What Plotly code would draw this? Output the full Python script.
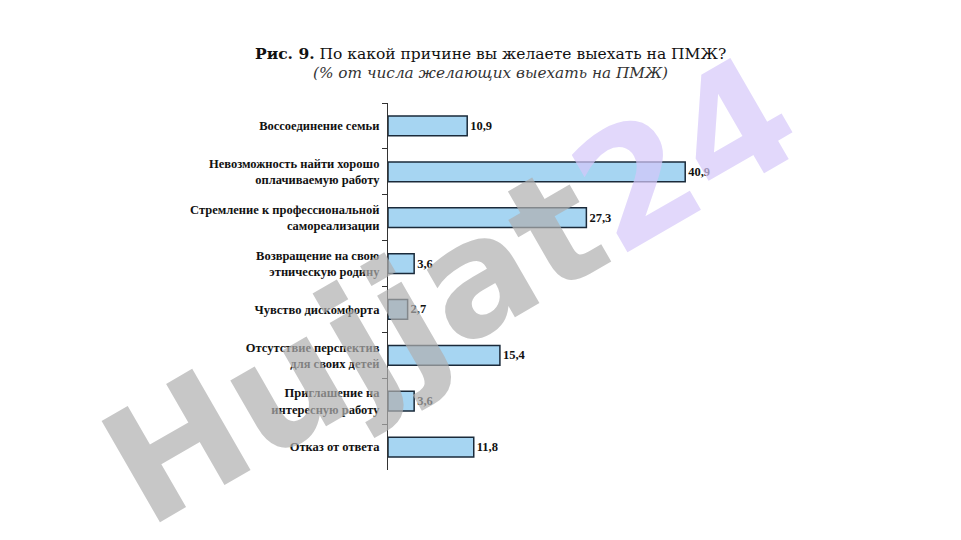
import plotly.graph_objects as go

categories = [
    "Воссоединение семьи",
    "Невозможность найти хорошо<br>оплачиваемую работу",
    "Стремление к профессиональной<br>самореализации",
    "Возвращение на свою<br>этническую родину",
    "Чувство дискомфорта",
    "Отсутствие перспектив<br>для своих детей",
    "Приглашение на<br>интересную работу",
    "Отказ от ответа",
]
values = [10.9, 40.9, 27.3, 3.6, 2.7, 15.4, 3.6, 11.8]
value_labels = ["10,9", "40,9", "27,3", "3,6", "2,7", "15,4", "3,6", "11,8"]

SERIF = "Liberation Serif"
W, H = 961, 540
OX, OY = 8, 8  # page body margin
x0, x1 = 388 - OX, 715 - OX
y0, y1 = 103 - OY, 470 - OY


def px(x):
    return (x - OX) / W


def py(y):
    return 1 - (y - OY) / H


fig = go.Figure()
fig.add_trace(go.Bar(
    y=categories, x=values, orientation="h",
    text=["<b>%s</b>" % t for t in value_labels], textposition="outside", cliponaxis=False,
    textfont=dict(family=SERIF, size=12.5, color="#111111"),
    marker=dict(color="#a6d5f2", line=dict(color="#1a2a3a", width=1.5)),
    width=0.43,
))

fig.update_layout(
    width=W, height=H,
    margin=dict(l=0, r=0, t=0, b=0),
    paper_bgcolor="white", plot_bgcolor="white",
    showlegend=False,
    font=dict(family=SERIF, color="#111111"),
    xaxis=dict(domain=[x0 / W, x1 / W], range=[0, 45], visible=False),
    yaxis=dict(
        domain=[1 - y1 / H, 1 - y0 / H],
        autorange="reversed",
        showline=True, linecolor="#333333", linewidth=1.2,
        ticks="outside", tickson="boundaries", ticklen=5, tickcolor="#333333",
        tickfont=dict(family=SERIF, size=12.5, color="#111111", weight="bold"),
        ticklabelstandoff=5,
        showgrid=False,
    ),
    annotations=[
        dict(text="<b>Рис. 9.</b> По какой причине вы желаете выехать на ПМЖ?",
             x=px(491), y=py(53), xref="paper", yref="paper", yanchor="middle",
             showarrow=False, font=dict(family="DejaVu Serif", size=15.5, color="#111111")),
        dict(text="<i>(% от числа желающих выехать на ПМЖ)</i>",
             x=px(491), y=py(73), xref="paper", yref="paper", yanchor="middle",
             showarrow=False, font=dict(family="DejaVu Serif", size=15.3, color="#333333")),
        dict(text="<span style='color:#b0b0b0'>Hujjat</span><span style='color:#d6c8fa'>24</span>",
             x=px(450), y=py(290), xref="paper", yref="paper",
             showarrow=False, textangle=-30, opacity=0.7,
             font=dict(family="DejaVu Sans", size=160, weight="bold")),
    ],
)

fig.write_html("out.html")
